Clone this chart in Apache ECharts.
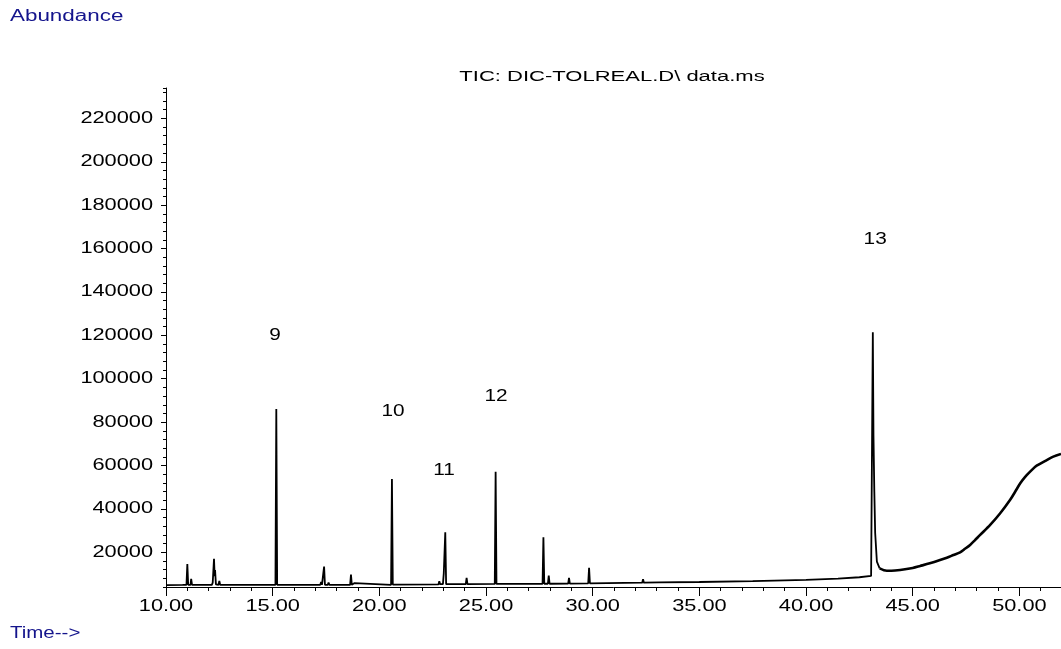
<!DOCTYPE html>
<html><head><meta charset="utf-8">
<script src="https://cdn.jsdelivr.net/npm/echarts@6/dist/echarts.min.js"></script>
<style>html,body{margin:0;padding:0;background:#fff}#c{width:1061px;height:649px}</style>
</head><body><div id="c"></div>
<script>
// retention time (min) — peaks region
const rt = [
  10.00, 10.78, 10.80, 10.83, 10.96, 11.00, 11.04, 11.15, 11.18, 11.22,
  11.88, 11.90, 11.93, 12.15, 12.19, 12.22, 12.25, 12.28, 12.30, 12.34,
  12.46, 12.50, 12.54, 15.13, 15.17, 15.21, 17.23, 17.27, 17.31, 17.37,
  17.41, 17.45, 17.58, 17.62, 17.66, 18.63, 18.67, 18.71, 18.80, 18.84,
  18.88, 20.55, 20.59, 20.63, 20.75, 20.79, 20.83, 22.77, 22.81, 22.85,
  22.98, 23.02, 23.05, 23.09, 23.13, 24.05, 24.09, 24.13, 25.41, 25.45,
  25.49, 27.65, 27.69, 27.73, 27.90, 27.94, 27.98, 28.85, 28.89, 28.93,
  29.79, 29.83, 29.87, 32.32, 32.36, 32.40, 33.12, 33.16, 33.20, 35.00,
  37.50, 40.00, 41.50, 42.50, 43.05, 43.08, 43.13, 43.16, 43.20, 43.24,
  43.32, 43.45
];
// abundance — peaks region
const abund = [
  4900, 4950, 5800, 5000, 5000, 14600, 5000, 5000, 7700, 5000,
  5000, 5500, 5000, 5000, 6000, 5300, 17000, 9000, 11800, 5200,
  5000, 6800, 5000, 5000, 86000, 5000, 5000, 6300, 5000, 5000,
  13400, 5000, 5000, 6000, 5000, 5000, 9700, 5000, 5000, 5800,
  5000, 5000, 53800, 5100, 5100, 5600, 5100, 5200, 6600, 5300,
  5300, 10300, 9500, 29200, 5300, 5300, 8150, 5300, 5400, 57100,
  5400, 5500, 26900, 5500, 5500, 9200, 5500, 5600, 8150, 5600,
  5700, 12900, 5700, 6000, 7550, 6000, 6100, 7000, 6100, 6300,
  6700, 7300, 7900, 8500, 9100, 9300, 121400, 74000, 48000, 28900,
  15700, 12600
];
// retention time (min) — column bleed tail
const tailRt = [
  43.45, 43.78, 44.00, 44.41, 45.00, 45.35, 45.80, 46.28, 46.60, 46.91,
  47.22, 47.45, 47.69, 47.90, 48.16, 48.63, 49.10, 49.56, 49.80, 50.04,
  50.27, 50.66, 50.81, 51.28, 51.59, 51.95
];
// abundance — column bleed tail
const tailAbund = [
  12600, 11500, 11500, 11850, 12800, 13700, 14900, 16400, 17500, 18750,
  20000, 21600, 23400, 25400, 28000, 32600, 38000, 44100, 47900, 51800,
  54800, 58700, 59900, 62500, 64100, 65300
];
const xTickLabels = [10, 15, 20, 25, 30, 35, 40, 45, 50];
const yTickLabels = [20000, 40000, 60000, 80000, 100000, 120000, 140000, 160000, 180000, 200000, 220000];
const peakNames = ['9', '10', '11', '12', '13'];
const peakLabelRt = [15.11, 20.64, 23.03, 25.47, 43.24];
const peakLabelAbund = [119700, 84700, 57500, 91600, 164300];

const chart = echarts.init(document.getElementById('c'), null, {renderer: 'canvas'});
const X_MIN = 10, X_MAX = 51.95, Y_MIN = 4000, Y_MAX = 234000;
const axisCommon = {
  type: 'value', splitLine: {show: false}, axisLabel: {show: false}
};
const option = {
  animation: false,
  backgroundColor: '#fff',
  grid: {left: 166, right: 0, top: 88, bottom: 62},
  xAxis: [
    Object.assign({}, axisCommon, {
      min: X_MIN, max: X_MAX, interval: 1, position: 'bottom',
      axisLine: {show: true, lineStyle: {color: '#000', width: 1}},
      axisTick: {show: true, length: 4, lineStyle: {color: '#000', width: 1}}
    }),
    Object.assign({}, axisCommon, {
      min: X_MIN, max: X_MAX, interval: 5, position: 'bottom',
      axisLine: {show: false},
      axisTick: {show: true, length: 9, lineStyle: {color: '#000', width: 1}}
    })
  ],
  yAxis: [
    Object.assign({}, axisCommon, {
      min: Y_MIN, max: Y_MAX, interval: 4000, position: 'left',
      axisLine: {show: true, lineStyle: {color: '#000', width: 1}},
      axisTick: {show: true, length: 3, lineStyle: {color: '#000', width: 1}}
    }),
    Object.assign({}, axisCommon, {
      min: Y_MIN, max: Y_MAX, position: 'left',
      axisLine: {show: false},
      axisTick: {show: true, length: 5, customValues: yTickLabels, lineStyle: {color: '#000', width: 1}}
    })
  ],
  series: [{
    type: 'line',
    xAxisIndex: 0, yAxisIndex: 0,
    data: rt.map((t, i) => [t, abund[i]]),
    showSymbol: false,
    sampling: null,
    lineStyle: {color: '#000', width: 1.8},
    z: 5
  }, {
    type: 'line',
    xAxisIndex: 0, yAxisIndex: 0,
    data: tailRt.map((t, i) => [t, tailAbund[i]]),
    showSymbol: false,
    smooth: 0.3,
    lineStyle: {color: '#000', width: 2.6},
    z: 5
  }]
};
chart.setOption(option);

const px = v => chart.convertToPixel({xAxisIndex: 0}, v);
const py = v => chart.convertToPixel({yAxisIndex: 0}, v);
const FONT = '"Liberation Sans", Arial, sans-serif';
function txt(text, x, y, size, sx, align, color) {
  return {
    type: 'text', x: x, y: y, scaleX: sx, silent: true, z: 10,
    style: {
      text: text, fontSize: size, fontFamily: FONT, fill: color || '#000',
      align: align, textAlign: align, verticalAlign: 'middle', textVerticalAlign: 'middle'
    }
  };
}
const y0 = py(Y_MIN), x0 = px(X_MIN);
const g = [];
yTickLabels.forEach(v => g.push(txt(String(v), x0 - 13, py(v), 16, 1.36, 'right')));
xTickLabels.forEach(v => g.push(txt(v.toFixed(2), px(v), y0 + 20, 16, 1.36, 'center')));
peakNames.forEach((n, i) => g.push(txt(n, px(peakLabelRt[i]), py(peakLabelAbund[i]), 16, 1.3, 'center')));
g.push(txt('TIC: DIC-TOLREAL.D\\ data.ms', 612, 77, 15.4, 1.43, 'center'));
g.push(txt('Abundance', 10, 17, 16, 1.4, 'left', '#14148c'));
g.push(txt('Time-->', 10, 634, 16, 1.28, 'left', '#14148c'));
chart.setOption({graphic: g});
</script>
</body></html>
